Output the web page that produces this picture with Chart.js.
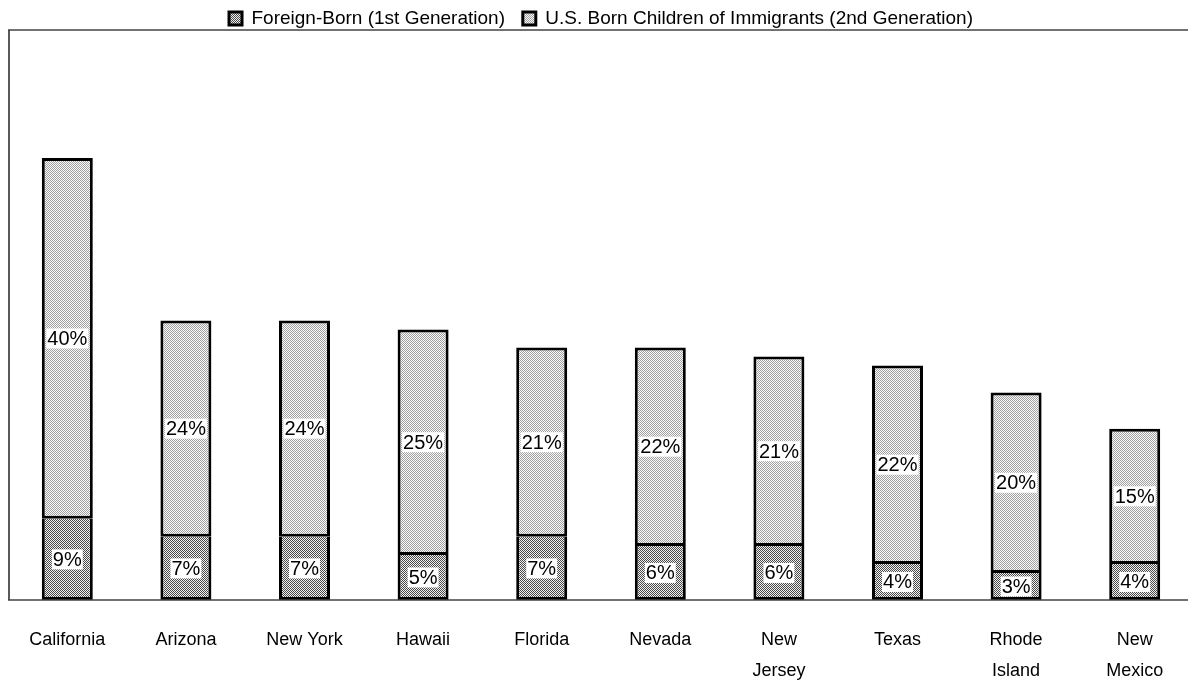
<!DOCTYPE html>
<html>
<head>
<meta charset="utf-8">
<script src="https://cdn.jsdelivr.net/npm/chart.js@4.4.1/dist/chart.umd.min.js"></script>
<style>
  html, body { margin: 0; padding: 0; background: #fff; overflow: hidden; }
  #wrap { width: 1196px; height: 687px; }
</style>
</head>
<body>
<div id="wrap"><canvas id="chart"></canvas></div>
<script>
// States, ordered by total share of immigrant population
const states = ['California', 'Arizona', 'New York', 'Hawaii', 'Florida', 'Nevada',
  ['New', 'Jersey'], 'Texas', ['Rhode', 'Island'], ['New', 'Mexico']];

// Percent of state population
const firstGen = [9, 7, 7, 5, 7, 6, 6, 4, 3, 4];
const secondGen = [40, 24, 24, 25, 21, 22, 21, 22, 20, 15];

const seriesNames = ['Foreign-Born (1st Generation)', 'U.S. Born Children of Immigrants (2nd Generation)'];

const FONT = '"Liberation Sans", Arial, sans-serif';

// stippled halftone fills
function makePattern(dot, base) {
  const c = document.createElement('canvas');
  c.width = 4; c.height = 4;
  const g = c.getContext('2d');
  g.fillStyle = base;
  g.fillRect(0, 0, 4, 4);
  g.fillStyle = dot;
  for (let y = 0; y < 4; y++) {
    for (let x = 0; x < 4; x++) {
      if ((x + y) % 2 === 0) g.fillRect(x, y, 1, 1);
    }
  }
  return g.createPattern(c, 'repeat');
}
const darkFill = makePattern('#4a4a4a', '#f0f0f0');
const lightFill = makePattern('#a0a0a0', '#fafafa');

// left / top / bottom frame of the plot
const frame = {
  id: 'frame',
  afterDraw(chart) {
    const { ctx, chartArea: a } = chart;
    ctx.save();
    ctx.lineWidth = 1.5;
    ctx.strokeStyle = '#222';
    ctx.beginPath();
    ctx.moveTo(a.left + 1, a.top);
    ctx.lineTo(a.left + 1, a.bottom);
    ctx.stroke();
    ctx.strokeStyle = '#444';
    ctx.beginPath();
    ctx.moveTo(a.left, a.top);
    ctx.lineTo(a.right, a.top);
    ctx.moveTo(a.left, a.bottom);
    ctx.lineTo(a.right, a.bottom);
    ctx.stroke();
    ctx.restore();
  }
};

// percent labels centred in each segment, on a white patch
const segLabels = {
  id: 'segLabels',
  afterDatasetsDraw(chart) {
    const { ctx } = chart;
    ctx.save();
    ctx.font = '20px ' + FONT;
    ctx.textAlign = 'center';
    ctx.textBaseline = 'middle';
    chart.data.datasets.forEach((ds, i) => {
      chart.getDatasetMeta(i).data.forEach((bar, j) => {
        const txt = ds.data[j] + '%';
        const y = (bar.y + bar.base) / 2;
        const w = ctx.measureText(txt).width;
        ctx.fillStyle = '#fff';
        ctx.fillRect(bar.x - w / 2 - 1, y - 10, w + 2, 20);
        ctx.fillStyle = '#000';
        ctx.fillText(txt, bar.x, y + 1);
      });
    });
    ctx.restore();
  }
};

const chart = new Chart(document.getElementById('chart'), {
  type: 'bar',
  data: {
    labels: states,
    datasets: [{
      label: seriesNames[0],
      data: firstGen,
      backgroundColor: darkFill,
      borderColor: '#000',
      borderWidth: 3,
      borderSkipped: 'top'
    }, {
      label: seriesNames[1],
      data: secondGen,
      backgroundColor: lightFill,
      borderColor: '#000',
      borderWidth: 3,
      borderSkipped: false
    }]
  },
  options: {
    responsive: true,
    maintainAspectRatio: false,
    animation: false,
    layout: { padding: { left: 8, right: 2, top: 7, bottom: 0 } },
    datasets: { bar: { barPercentage: 0.43, categoryPercentage: 1 } },
    scales: {
      x: {
        stacked: true,
        grid: { display: false },
        border: { display: false },
        afterFit(scale) { scale.height = 87; },
        ticks: {
          padding: 16,
          color: '#000',
          maxRotation: 0,
          autoSkip: false,
          font: { family: FONT, size: 18, lineHeight: 1.75 }
        }
      },
      y: {
        stacked: true,
        display: false,
        min: 0,
        max: 63.2
      }
    },
    plugins: {
      legend: {
        position: 'top',
        labels: {
          color: '#000',
          boxWidth: 13,
          boxHeight: 13,
          padding: 2,
          font: { family: FONT, size: 19, lineHeight: 1 },
          // extra room after the first entry
          generateLabels(chart) {
            const items = Chart.defaults.plugins.legend.labels.generateLabels(chart);
            items[0].text += '   ';
            return items;
          }
        }
      },
      tooltip: { enabled: false }
    }
  },
  plugins: [frame, segLabels]
});

// tighten the space the legend reserves below itself
const legendFit = chart.legend.fit.bind(chart.legend);
chart.legend.fit = function () {
  legendFit();
  this.height -= 8;
};
chart.update();
</script>
</body>
</html>
